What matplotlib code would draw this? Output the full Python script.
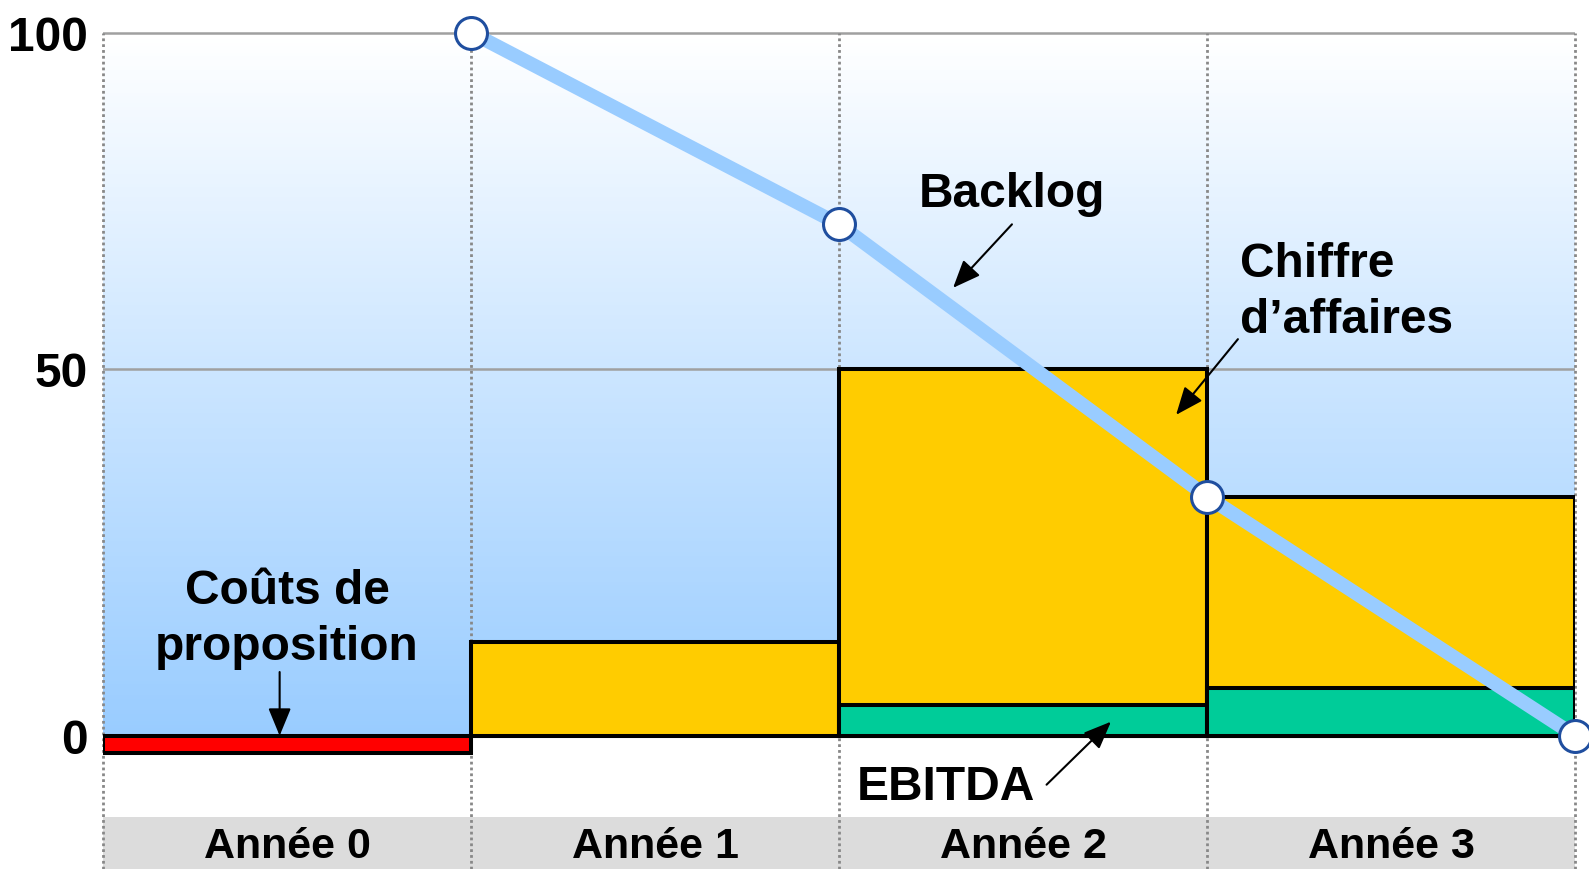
import numpy as np
import matplotlib
matplotlib.use("Agg")
import matplotlib.pyplot as plt
from matplotlib.colors import LinearSegmentedColormap

plt.rcParams['font.family'] = ['Liberation Sans', 'DejaVu Sans']
plt.rcParams['font.weight'] = 'bold'

# data
annees = ["Année 0", "Année 1", "Année 2", "Année 3"]
couts_proposition = [-2.4, 0, 0, 0]
chiffre_affaires = [0, 12.8, 50, 32.6]
ebitda = [0, 0, 4.2, 6.5]
backlog_x = [1, 2, 3, 4]
backlog = [100, 71.5, 32.6, 0]
yticks = [0, 50, 100]

# the vertical axis is stretched a bit more between 0 and 50 than above 50
K_BAS, K_HAUT = 7.334, 6.73


def fwd(v):
    v = np.asarray(v, dtype=float)
    return np.where(v <= 50, v * K_BAS, 50 * K_BAS + (v - 50) * K_HAUT)


def inv(u):
    u = np.asarray(u, dtype=float)
    return np.where(u <= 50 * K_BAS, u / K_BAS, 50 + (u - 50 * K_BAS) / K_HAUT)


fig = plt.figure(figsize=(15.89, 8.70), dpi=100)
ax = fig.add_axes([103 / 1589, 0, (1575 - 103) / 1589, 1])
ax.set_yscale("function", functions=(fwd, inv))
ax.set_xlim(0, 4)
ax.set_ylim(-18.18, 104.98)

# background gradient, white at the top to light blue at zero
cmap = LinearSegmentedColormap.from_list("fond", ["#99CCFF", "#FFFFFF"])
gy = np.linspace(0, 100, 201)
gc = np.linspace(0, 1, 200).reshape(-1, 1)
ax.pcolormesh([0, 4], gy, gc, cmap=cmap, shading="flat", zorder=0,
              rasterized=True)

# category band at the bottom
ax.axhspan(-18.18, -11.09, color="#DCDCDC", zorder=0.5, lw=0)
for i, a in enumerate(annees):
    ax.text(i + 0.5, 0.027, a, ha="center", va="center", fontsize=31,
            fontweight="bold", zorder=5,
            transform=ax.get_xaxis_transform())

# grid
for y in [50, 100]:
    ax.plot([0, 4], [y, y], color="#A0A0A0", lw=1.8, zorder=1)
for x in range(5):
    ax.plot([x, x], [-18.18, 100], color="#888888", lw=2,
            ls=(0, (1, 1.1)), zorder=1, clip_on=False)

x = np.arange(4)
ax.bar(x, couts_proposition, width=1, align="edge", color="#FF0000",
       edgecolor="black", lw=2.9, zorder=2)
ax.bar(x[1:], chiffre_affaires[1:], width=1, align="edge", color="#FFCC00",
       edgecolor="black", lw=2.9, zorder=2)
ax.bar(x[2:], ebitda[2:], width=1, align="edge", color="#00CC99",
       edgecolor="black", lw=2.9, zorder=2.1)

# backlog line
ax.plot(backlog_x, backlog, color="#99CCFF", lw=10, zorder=3,
        solid_capstyle="butt", clip_on=False)
ax.plot(backlog_x, backlog, ls="none", marker="o", ms=23, mfc="white",
        mec="#1F4E9F", mew=2.2, zorder=4, clip_on=False)

# annotations (y in axes fraction)
arrow = dict(arrowstyle="-|>,head_length=1.7,head_width=0.7", color="black",
             lw=1.5, shrinkA=0, shrinkB=0)
fr = ("data", "axes fraction")
tr = ax.get_xaxis_transform()
ax.text(2.47, 0.776, "Backlog", ha="center", va="center", fontsize=34.5,
        fontweight="bold", zorder=5, transform=tr)
ax.annotate("", xy=(2.31, 0.668), xytext=(2.47, 0.741), xycoords=fr,
            textcoords=fr, arrowprops=arrow, zorder=5)
ax.text(3.09, 0.664, "Chiffre\nd\u2019affaires", ha="left", va="center",
        fontsize=34.5, fontweight="bold", linespacing=1.32, zorder=5,
        transform=tr)
ax.annotate("", xy=(2.916, 0.522), xytext=(3.084, 0.609), xycoords=fr,
            textcoords=fr, arrowprops=arrow, zorder=5)
ax.text(0.5, 0.2875, "Coûts de\nproposition", ha="center", va="center",
        fontsize=34.5, fontweight="bold", linespacing=1.32, zorder=5,
        transform=tr)
ax.annotate("", xy=(0.48, 0.1532), xytext=(0.48, 0.2264), xycoords=fr,
            textcoords=fr, arrowprops=arrow, zorder=5)
ax.text(2.29, 0.0943, "EBITDA", ha="center", va="center", fontsize=34.5,
        fontweight="bold", zorder=5, transform=tr)
ax.annotate("", xy=(2.739, 0.1693), xytext=(2.564, 0.0969), xycoords=fr,
            textcoords=fr, arrowprops=arrow, zorder=5)

ax.set_yticks(yticks)
ax.set_yticklabels([str(v) for v in yticks], fontsize=34.5,
                   fontweight="bold")
ax.yaxis.set_minor_locator(matplotlib.ticker.NullLocator())
ax.tick_params(axis="y", length=0, pad=11)
ax.set_xticks([])
for s in ax.spines.values():
    s.set_visible(False)

fig.savefig("out.png", dpi=100)
